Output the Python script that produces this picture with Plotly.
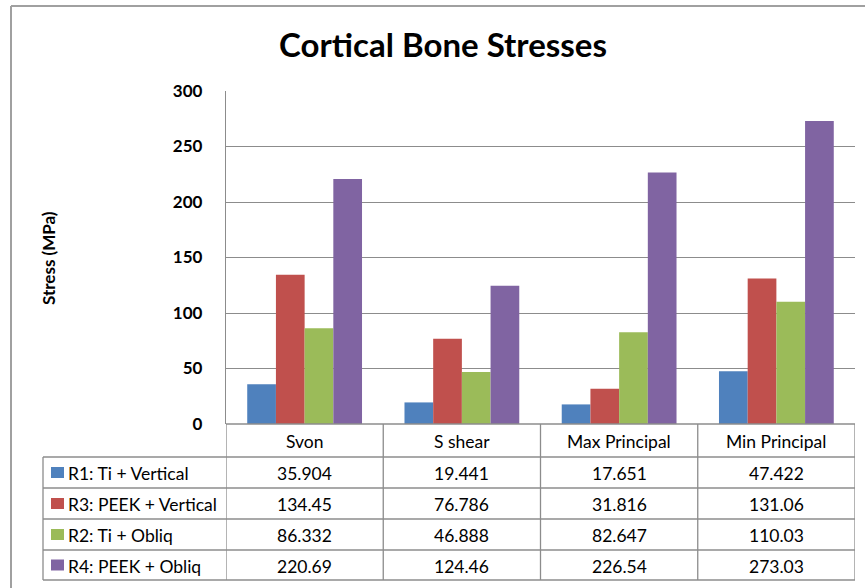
import plotly.graph_objects as go

categories = ["Svon", "S shear", "Max Principal", "Min Principal"]
series_names = ["R1: Ti + Vertical", "R3: PEEK + Vertical", "R2: Ti + Obliq", "R4: PEEK + Obliq"]
r1_ti_vertical = [35.904, 19.441, 17.651, 47.422]
r3_peek_vertical = [134.45, 76.786, 31.816, 131.06]
r2_ti_obliq = [86.332, 46.888, 82.647, 110.03]
r4_peek_obliq = [220.69, 124.46, 226.54, 273.03]
series_values = [r1_ti_vertical, r3_peek_vertical, r2_ti_obliq, r4_peek_obliq]
value_labels = [
    ["35.904", "19.441", "17.651", "47.422"],
    ["134.45", "76.786", "31.816", "131.06"],
    ["86.332", "46.888", "82.647", "110.03"],
    ["220.69", "124.46", "226.54", "273.03"],
]
colors = ["#4F81BD", "#C0504D", "#9BBB59", "#8064A2"]
y_ticks = [0, 50, 100, 150, 200, 250, 300]

W, H = 865, 588
PL, PR, PT, PB = 226, 855, 91, 424  # plot area in pixels
FONT = "Lato, Carlito, Calibri, sans-serif"
GRID = "#8C8C8C"
TBL = "#8C8C8C"
TXT = 17.5


def px(xp):
    return (xp - PL) / (PR - PL)


def py(yp):
    return (PB - yp) / (PB - PT)


fig = go.Figure()
for name, vals, col in zip(series_names, series_values, colors):
    fig.add_trace(go.Bar(x=categories, y=vals, name=name, marker_color=col,
                         marker_line_width=0, showlegend=False))

shapes = []
annotations = []

# outer chart border (left + top visible)
shapes.append(dict(type="line", xref="paper", yref="paper", x0=px(11), x1=px(11),
                   y0=py(6), y1=py(600), line=dict(color="#A0A0A0", width=2)))
shapes.append(dict(type="line", xref="paper", yref="paper", x0=px(11), x1=px(900),
                   y0=py(6), y1=py(6), line=dict(color="#A0A0A0", width=2)))

# table
row_edges = [424, 457, 488, 519, 550, 580]
for i in range(len(categories) + 1):
    shapes.append(dict(type="line", xref="x", yref="paper", x0=i - 0.5, x1=i - 0.5,
                       y0=py(row_edges[0]), y1=py(row_edges[-1]),
                       line=dict(color=TBL, width=1.3)))
for j, ye in enumerate(row_edges):
    x0 = PL if j == 0 else 43
    shapes.append(dict(type="line", xref="paper", yref="paper", x0=px(x0), x1=px(PR),
                       y0=py(ye), y1=py(ye), line=dict(color=TBL, width=1.3)))
shapes.append(dict(type="line", xref="paper", yref="paper", x0=px(43), x1=px(43),
                   y0=py(row_edges[1]), y1=py(row_edges[-1]), line=dict(color=TBL, width=1.3)))

# header row
for i, c in enumerate(categories):
    annotations.append(dict(x=i, y=py((row_edges[0] + row_edges[1]) / 2 + 1), xref="x", yref="paper",
                            text=c, showarrow=False, xanchor="center", yanchor="middle",
                            font=dict(family=FONT, size=TXT, color="#000")))
# data rows
for r, (name, labels, col) in enumerate(zip(series_names, value_labels, colors)):
    yc = (row_edges[r + 1] + row_edges[r + 2]) / 2
    shapes.append(dict(type="rect", xref="paper", yref="paper", x0=px(51), x1=px(64),
                       y0=py(yc - 5.5), y1=py(yc + 5.5), fillcolor=col, line=dict(width=0)))
    annotations.append(dict(x=px(66), y=py(yc + 1), xref="paper", yref="paper", text=name,
                            showarrow=False, xanchor="left", yanchor="middle",
                            font=dict(family=FONT, size=TXT, color="#000")))
    for i, lab in enumerate(labels):
        annotations.append(dict(x=i, y=py(yc + 1), xref="x", yref="paper", text=lab,
                                showarrow=False, xanchor="center", yanchor="middle",
                                font=dict(family=FONT, size=TXT, color="#000")))

# y axis title
annotations.append(dict(x=px(48), y=py(258), xref="paper", yref="paper", text="<b>Stress (MPa)</b>",
                        showarrow=False, textangle=-90, xanchor="center", yanchor="middle",
                        font=dict(family=FONT, size=17, color="#000")))

fig.update_layout(
    width=W, height=H,
    margin=dict(l=PL, r=W - PR, t=PT, b=H - PB, pad=0),
    paper_bgcolor="white", plot_bgcolor="white",
    barmode="group", bargap=0.27, bargroupgap=0,
    title=dict(text="<b>Cortical Bone Stresses</b>", x=443 / W, xanchor="center", xref="container",
               y=1 - 45 / H, yanchor="middle", yref="container",
               font=dict(family=FONT, size=33, color="#000")),
    xaxis=dict(showticklabels=False, showgrid=False, zeroline=False, showline=False,
               range=[-0.5, len(categories) - 0.5], ticks=""),
    yaxis=dict(range=[0, 300], tickvals=y_ticks, showgrid=True, gridcolor=GRID, gridwidth=1.3,
               zeroline=False, showline=True, linecolor=GRID, linewidth=1.3, ticks="",
               ticklabelstandoff=19,
               tickfont=dict(family=FONT, size=17, color="#000", weight="bold")),
    shapes=shapes, annotations=annotations,
    font=dict(family=FONT),
)

fig.write_html("out.html", config={"displayModeBar": False},
               post_script="document.body.style.margin='0';")
